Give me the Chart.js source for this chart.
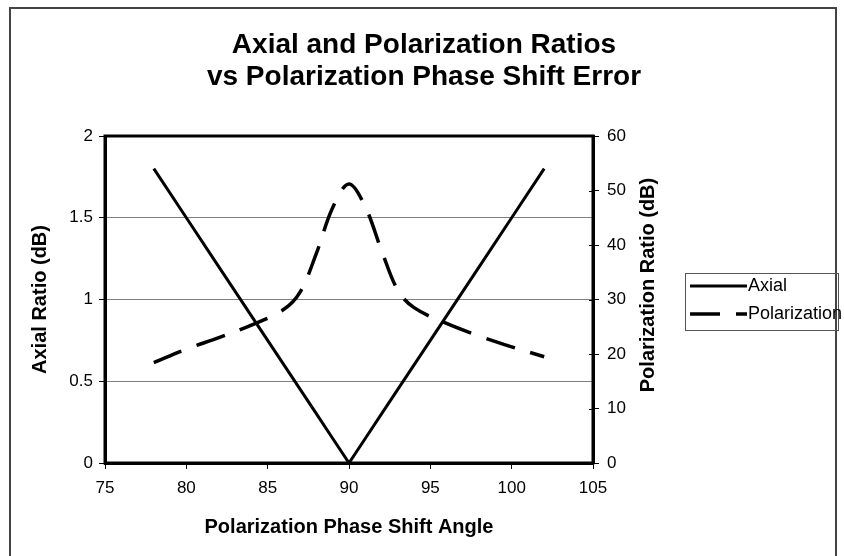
<!DOCTYPE html>
<html>
<head>
<meta charset="utf-8">
<script src="https://cdn.jsdelivr.net/npm/chart.js@4/dist/chart.umd.min.js"></script>
<style>
  html, body { margin: 0; padding: 0; background: #fff; }
  #wrap { position: relative; width: 844px; height: 556px; }
</style>
</head>
<body>
<div id="wrap"><canvas id="myChart" width="844" height="556"></canvas></div>
<script>
// phase shift angle (deg) and the two ratios at each angle
var angles = [78, 80, 82, 84, 86, 87, 88, 89, 90, 91, 92, 93, 94, 96, 98, 100, 102];
var axialRatio = [1.8, 1.5, 1.2, 0.9, 0.6, 0.45, 0.3, 0.15, 0, 0.15, 0.3, 0.45, 0.6, 0.9, 1.2, 1.5, 1.8];
var polRatio = [18.4, 20.9, 23.0, 25.3, 28.2, 31.4, 38.5, 46.9, 51.2, 47.0, 39.0, 31.7, 28.5, 25.6, 23.3, 21.3, 19.5];

var titleLines = ['Axial and Polarization Ratios', 'vs Polarization Phase Shift Error'];
var legendNames = ['Axial', 'Polarization'];

function points(ys) {
  return angles.map(function(a, i) { return { x: a, y: ys[i] }; });
}

var FONT = "'Liberation Sans', Arial, sans-serif";

// title, outer frame, plot border, right axis title and legend box
var decor = {
  id: 'decor',
  beforeDraw: function(chart) {
    var c = chart.ctx;
    c.save();
    c.fillStyle = '#fff';
    c.fillRect(0, 0, chart.width, chart.height);
    c.strokeStyle = '#444';
    c.lineWidth = 2;
    c.strokeRect(10, 8, 826, 560);
    c.restore();
  },
  beforeDatasetsDraw: function(chart) {
    var c = chart.ctx, a = chart.chartArea;
    c.save();
    c.strokeStyle = '#000';
    c.lineWidth = 3;
    c.strokeRect(a.left, a.top, a.right - a.left, a.bottom - a.top);
    // right axis ticks cross the border
    var y2 = chart.scales.y2;
    c.lineWidth = 1;
    y2.ticks.forEach(function(t) {
      var py = Math.round(y2.getPixelForValue(t.value)) + 0.5;
      c.beginPath();
      c.moveTo(a.right - 4, py);
      c.lineTo(a.right, py);
      c.stroke();
    });
    c.restore();
  },
  afterDraw: function(chart) {
    var c = chart.ctx;
    c.save();
    c.fillStyle = '#000';
    c.textAlign = 'center';
    c.textBaseline = 'middle';
    c.font = 'bold 28px ' + FONT;
    c.fillText(titleLines[0], 424, 45);
    c.fillText(titleLines[1], 424, 77);

    c.translate(648, 285);
    c.rotate(-Math.PI / 2);
    c.font = 'bold 20px ' + FONT;
    c.fillText('Polarization Ratio (dB)', 0, 0);
    c.restore();

    // legend
    c.save();
    c.strokeStyle = '#555';
    c.lineWidth = 1;
    c.strokeRect(685.5, 273.5, 153, 57);
    c.font = '18px ' + FONT;
    c.textAlign = 'left';
    c.textBaseline = 'middle';
    c.fillStyle = '#000';
    chart.data.datasets.forEach(function(ds, i) {
      var y = 286 + i * 28;
      c.strokeStyle = ds.borderColor;
      c.lineWidth = ds.borderWidth;
      c.setLineDash(ds.borderDash || []);
      c.beginPath();
      c.moveTo(690, y);
      c.lineTo(747, y);
      c.stroke();
      c.fillText(legendNames[i], 748, y);
    });
    c.restore();
  }
};

new Chart('myChart', {
  type: 'line',
  data: {
    datasets: [
      {
        label: legendNames[0],
        data: points(axialRatio),
        yAxisID: 'y',
        borderColor: '#000',
        borderWidth: 3,
        pointRadius: 0,
        tension: 0
      },
      {
        label: legendNames[1],
        data: points(polRatio),
        yAxisID: 'y2',
        borderColor: '#000',
        borderWidth: 3.5,
        borderDash: [30, 16],
        pointRadius: 0,
        tension: 0.35
      }
    ]
  },
  options: {
    responsive: false,
    animation: false,
    layout: { padding: { top: 136, left: 0, right: 0, bottom: 0 } },
    plugins: {
      legend: { display: false },
      tooltip: { enabled: false }
    },
    scales: {
      x: {
        type: 'linear',
        min: 75,
        max: 105,
        ticks: { stepSize: 5, color: '#000', padding: 9, font: { family: FONT, size: 17 } },
        grid: { drawOnChartArea: false, tickLength: 6, tickColor: '#000' },
        border: { color: '#000', width: 3 },
        title: {
          display: true,
          text: 'Polarization Phase Shift Angle',
          color: '#000',
          font: { family: FONT, size: 20, weight: 'bold' },
          padding: { top: 0, bottom: 17 }
        },
        afterFit: function(s) { s.height = 93; }
      },
      y: {
        position: 'left',
        min: 0,
        max: 2,
        ticks: {
          stepSize: 0.5,
          color: '#000',
          padding: 6,
          font: { family: FONT, size: 17 },
          callback: function(v) { return String(v); }
        },
        grid: {
          color: '#808080',
          lineWidth: 1,
          tickLength: 6,
          tickColor: '#000'
        },
        border: { color: '#000', width: 3 },
        title: {
          display: true,
          text: 'Axial Ratio (dB)',
          color: '#000',
          font: { family: FONT, size: 20, weight: 'bold' },
          padding: { top: 28, bottom: 0 }
        },
        afterFit: function(s) { s.width = 105; }
      },
      y2: {
        position: 'right',
        min: 0,
        max: 60,
        ticks: { stepSize: 10, color: '#000', padding: 8, font: { family: FONT, size: 17 } },
        grid: { drawOnChartArea: false, tickLength: 6, tickColor: '#000' },
        border: { color: '#000', width: 3 },
        afterFit: function(s) { s.width = 251; }
      }
    }
  },
  plugins: [decor]
});
</script>
</body>
</html>
